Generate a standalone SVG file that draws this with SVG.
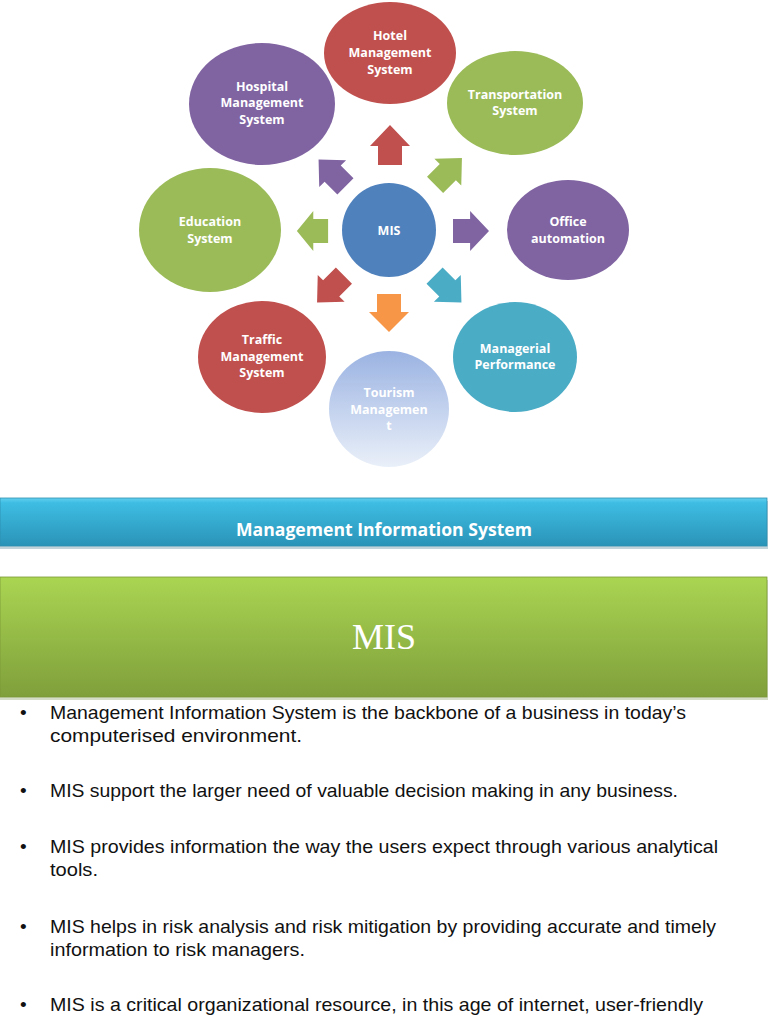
<svg xmlns="http://www.w3.org/2000/svg" width="768" height="1024" viewBox="0 0 768 1024">
<defs>
<linearGradient id="tour" x1="0" y1="0" x2="0" y2="1"><stop offset="0" stop-color="#9bb3e2"/><stop offset="1" stop-color="#eaf0f9"/></linearGradient>
<linearGradient id="blueBar" x1="0" y1="0" x2="0" y2="1"><stop offset="0" stop-color="#62d0ef"/><stop offset="0.1" stop-color="#3ebde3"/><stop offset="1" stop-color="#2a93b7"/></linearGradient>
<linearGradient id="greenBar" x1="0" y1="0" x2="0" y2="1"><stop offset="0" stop-color="#aad552"/><stop offset="1" stop-color="#7f9f3b"/></linearGradient>
<path id="arr" d="M0,-20 L20,1 L12,1 L12,20 L-12,20 L-12,1 L-20,1 Z"/>
</defs>
<style>
.lbl{font-family:"Open Sans","Noto Sans",sans-serif;font-weight:bold;font-size:12.5px;fill:#ffffff;text-anchor:middle}
.bul{font-family:"Liberation Sans",Arial,sans-serif;font-size:19px;fill:#111111}
</style>
<rect width="768" height="1024" fill="#ffffff"/>

<g id="connectors">
<use href="#arr" fill="#c0504d" transform="translate(390,145)"/>
<use href="#arr" fill="#f79646" transform="translate(389,313) rotate(180) scale(1,0.95)"/>
<use href="#arr" fill="#9bbb59" transform="translate(312.5,231) rotate(-90) scale(1,0.78)"/>
<use href="#arr" fill="#8064a2" transform="translate(471,231) rotate(90) scale(1,0.9)"/>
<use href="#arr" fill="#8064a2" transform="translate(332,173) rotate(-45) scale(0.95)"/>
<use href="#arr" fill="#9bbb59" transform="translate(448.5,171.5) rotate(45) scale(0.95)"/>
<use href="#arr" fill="#c0504d" transform="translate(330.5,289) rotate(-135) scale(0.95)"/>
<use href="#arr" fill="#4bacc6" transform="translate(448,289) rotate(135) scale(0.95)"/>
</g>

<g id="hotel"><ellipse cx="390" cy="53" rx="66" ry="51" fill="#c0504d"/>
<text class="lbl" x="390" y="40">Hotel</text><text class="lbl" x="390" y="57">Management</text><text class="lbl" x="390" y="74">System</text></g>
<g id="hospital"><ellipse cx="262" cy="104" rx="73" ry="61" fill="#8064a2"/>
<text class="lbl" x="262" y="91">Hospital</text><text class="lbl" x="262" y="107">Management</text><text class="lbl" x="262" y="124">System</text></g>
<g id="transportation"><ellipse cx="515" cy="103" rx="68" ry="52" fill="#9bbb59"/>
<text class="lbl" x="515" y="99">Transportation</text><text class="lbl" x="515" y="115">System</text></g>
<g id="education"><ellipse cx="210" cy="230" rx="71" ry="62" fill="#9bbb59"/>
<text class="lbl" x="210" y="226">Education</text><text class="lbl" x="210" y="243">System</text></g>
<g id="mis"><ellipse cx="389" cy="230" rx="47" ry="47" fill="#4f81bd"/>
<text class="lbl" x="389" y="235">MIS</text></g>
<g id="office"><ellipse cx="568" cy="230" rx="61" ry="50" fill="#8064a2"/>
<text class="lbl" x="568" y="226">Office</text><text class="lbl" x="568" y="243">automation</text></g>
<g id="traffic"><ellipse cx="262" cy="357" rx="64" ry="56" fill="#c0504d"/>
<text class="lbl" x="262" y="344">Traffic</text><text class="lbl" x="262" y="361">Management</text><text class="lbl" x="262" y="377">System</text></g>
<g id="managerial"><ellipse cx="515" cy="357" rx="62" ry="55" fill="#4bacc6"/>
<text class="lbl" x="515" y="353">Managerial</text><text class="lbl" x="515" y="369">Performance</text></g>
<g id="tourism"><ellipse cx="389" cy="409" rx="60" ry="58" fill="url(#tour)"/>
<text class="lbl" x="389" y="397">Tourism</text><text class="lbl" x="389" y="414">Managemen</text><text class="lbl" x="389" y="430">t</text></g>

<g id="banner-blue">
<rect x="0" y="501" width="768" height="48" fill="#9ab6c0" opacity="0.6"/>
<rect x="0" y="498" width="767" height="48" fill="url(#blueBar)" stroke="#2d8fb0" stroke-width="0.8"/>
<text x="384" y="536" font-family="'Open Sans','Noto Sans',sans-serif" font-weight="bold" font-size="17" fill="#ffffff" text-anchor="middle" textLength="296" lengthAdjust="spacingAndGlyphs">Management Information System</text>
</g>
<g id="banner-green">
<rect x="0" y="580" width="768" height="120" fill="#b8c4a4" opacity="0.6"/>
<rect x="0" y="577" width="767" height="120" fill="url(#greenBar)" stroke="#7a9a38" stroke-width="0.8"/>
<text x="384" y="649" font-family="'Liberation Serif','Times New Roman',serif" font-size="36" fill="#ffffff" text-anchor="middle">MIS</text>
</g>

<g id="bullets">
<text class="bul" x="20" y="719">•</text>
<text class="bul" x="50" y="719" textLength="636" lengthAdjust="spacingAndGlyphs">Management Information System is the backbone of a business in today’s</text>
<text class="bul" x="50" y="742" textLength="252" lengthAdjust="spacingAndGlyphs">computerised environment.</text>
<text class="bul" x="20" y="797">•</text>
<text class="bul" x="50" y="797" textLength="628" lengthAdjust="spacingAndGlyphs">MIS support the larger need of valuable decision making in any business.</text>
<text class="bul" x="20" y="853">•</text>
<text class="bul" x="50" y="853" textLength="668" lengthAdjust="spacingAndGlyphs">MIS provides information the way the users expect through various analytical</text>
<text class="bul" x="50" y="876" textLength="48" lengthAdjust="spacingAndGlyphs">tools.</text>
<text class="bul" x="20" y="933">•</text>
<text class="bul" x="50" y="933" textLength="666" lengthAdjust="spacingAndGlyphs">MIS helps in risk analysis and risk mitigation by providing accurate and timely</text>
<text class="bul" x="50" y="956" textLength="255" lengthAdjust="spacingAndGlyphs">information to risk managers.</text>
<text class="bul" x="20" y="1011">•</text>
<text class="bul" x="50" y="1011" textLength="653" lengthAdjust="spacingAndGlyphs">MIS is a critical organizational resource, in this age of internet, user-friendly</text>
</g>
</svg>
